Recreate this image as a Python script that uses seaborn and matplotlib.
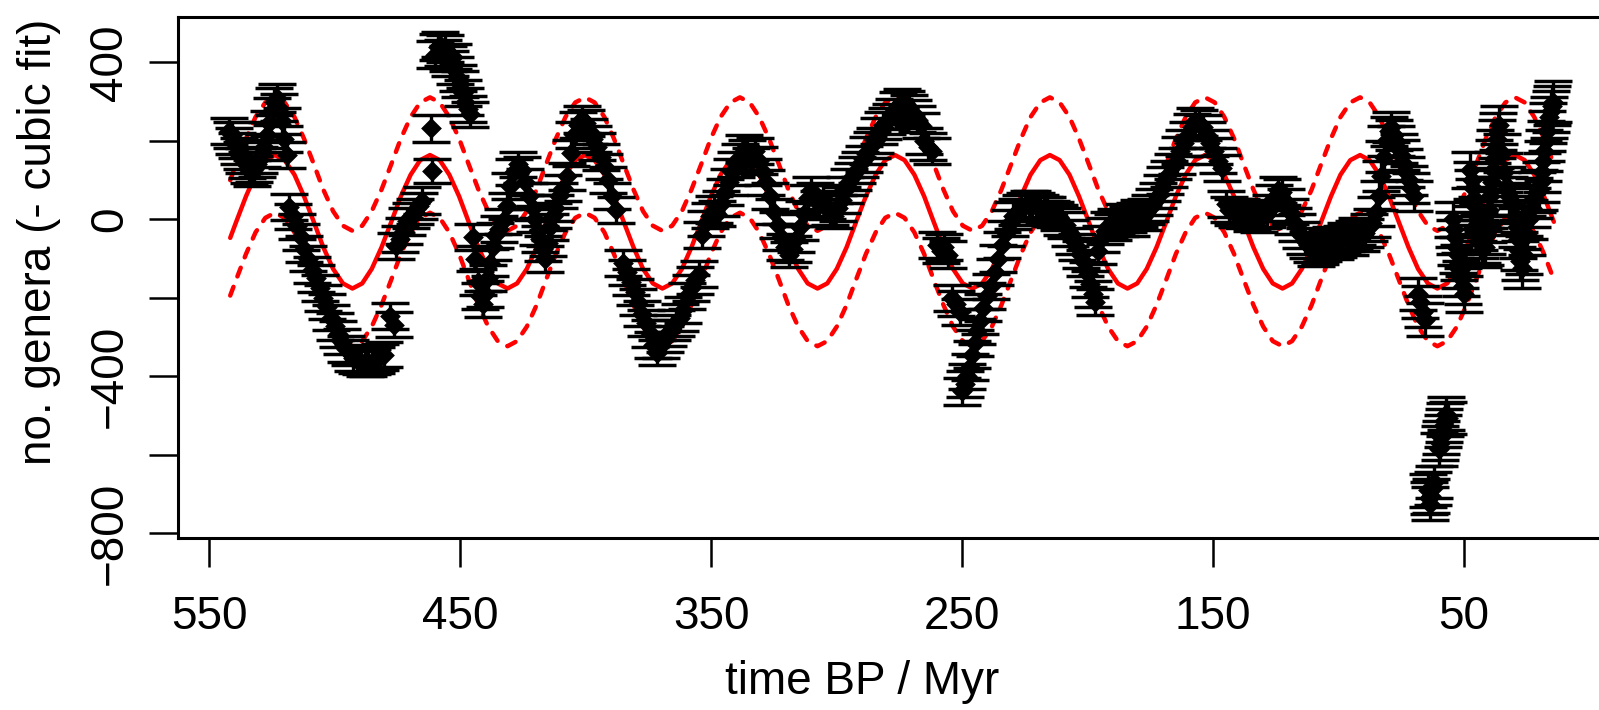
import matplotlib
matplotlib.use("Agg")
import matplotlib.pyplot as plt
import seaborn as sns
import pandas as pd

# ---------------- data: detrended genus counts (time BP in Myr) ----------------
time_myr = [
    542.0, 541.0, 540.0, 539.0, 538.0, 537.0, 536.0, 535.0, 534.0, 533.0, 532.0, 531.0,
    530.0, 529.0, 528.0, 527.0, 526.0, 525.0, 524.0, 523.0, 522.0, 521.0, 520.0, 519.0,
    518.0, 516.5, 515.0, 513.5, 512.0, 510.5, 509.0, 507.5, 506.0, 504.5, 503.0, 501.5, 500.0, 498.5, 497.0,
    495.5, 494.0, 492.5, 491.0, 489.5, 488.0, 486.5, 485.0, 483.5, 482.0, 480.5,
    478.0, 476.5,
    475.5, 474.0, 472.5, 471.0, 469.5, 468.0, 466.5, 465.0,
    461.5, 461.0,
    460.0, 459.0, 458.0, 457.0, 456.0, 455.0, 454.0, 453.0, 452.0, 451.0, 450.0, 449.0, 448.0, 447.0, 446.0,
    445.0, 444.0, 443.0, 442.0, 441.0, 440.0, 439.0, 438.0, 437.0, 436.0,
    434.5, 433.0, 431.5, 430.0, 428.5, 427.0, 425.5, 424.0, 422.5, 421.0, 420.0, 419.0, 418.0, 417.0, 416.0, 415.0, 414.0, 413.0,
    412.0, 410.5, 409.0, 407.5, 406.0, 404.5, 403.0, 401.5, 400.0, 398.5, 397.0, 395.5,
    394.0, 392.5, 391.0, 389.5, 388.0,
    385.0, 383.5, 382.0, 380.5, 379.0, 377.5, 376.0, 374.5, 373.0, 371.5, 370.0, 368.5, 367.0, 365.5, 364.0, 362.5, 361.0, 359.5, 358.0, 356.5, 355.0,
    353.5, 352.0, 350.5, 349.0, 347.5, 346.0, 344.5, 343.0, 341.5, 340.0, 338.5, 337.0, 335.5, 334.0, 332.5, 331.0, 329.5, 328.0,
    326.5, 325.0, 323.5, 322.0, 320.5, 319.0, 317.5, 316.0, 314.5, 313.0, 311.5, 310.0, 308.5, 307.0, 305.5, 304.0, 302.5, 301.0, 299.5,
    298.0, 296.5, 295.0, 293.5, 292.0, 290.5, 289.0, 287.5, 286.0, 284.5, 283.0, 281.5, 280.0, 278.5, 277.0, 275.5, 274.0, 272.5, 271.0, 269.5, 268.0, 266.5, 265.0, 263.5, 262.0,
    260.0, 258.5, 257.0, 255.5, 254.0, 252.5, 251.0, 250.0, 249.0, 248.0, 247.0, 246.0, 245.0, 244.0, 243.0, 241.5, 240.0, 238.5, 237.0, 235.5, 234.0, 232.5, 231.0, 229.5, 228.0,
    226.5, 225.0, 223.5, 222.0, 220.5, 219.0, 217.5, 216.0, 214.5, 213.0, 211.5, 210.0, 208.5,
    207.0, 205.5, 204.0, 202.5, 201.0, 200.0, 199.0, 198.0, 197.0,
    196.0, 194.5, 193.0, 191.5, 190.0, 188.5, 187.0, 185.5, 184.0, 182.5, 181.0, 179.5, 178.0, 176.5, 175.0,
    173.5, 172.0, 170.5, 169.0, 167.5, 166.0, 164.5, 163.0, 161.5, 160.0, 158.5, 157.0, 155.5, 154.0, 152.5, 151.0, 149.5, 148.0, 146.5,
    145.0, 143.5, 142.0, 140.5, 139.0, 137.5, 136.0, 134.5, 133.0, 131.5, 130.0, 128.5, 127.0, 125.5, 124.0, 122.5, 121.0, 119.5, 118.0, 116.5, 115.0, 113.5, 112.0, 110.5, 109.0,
    107.5, 106.0, 104.5, 103.0, 101.5, 100.0, 98.5, 97.0, 95.5, 94.0, 92.5, 91.0, 89.5, 88.0, 86.5,
    85.0, 84.0, 83.0, 82.0, 81.0, 80.0, 79.0, 78.0, 77.0, 76.0, 75.0, 74.0, 73.0, 72.0, 71.0, 70.0,
    68.5, 67.5, 66.5, 65.5,
    64.5, 64.0, 63.5, 63.0, 62.5, 62.0, 60.0, 59.5, 59.0, 58.5, 58.0, 57.5, 57.0, 56.5,
    54.5, 54.0, 53.5, 53.0, 52.5, 52.0, 51.5, 51.0, 50.5, 50.0,
    47.5, 47.0, 46.5, 46.0, 45.5, 45.0, 44.5, 44.0, 43.5, 43.0, 42.5,
    41.5, 41.0, 40.5, 40.0, 39.5, 39.0, 38.5, 38.0, 37.5, 37.0, 36.5, 36.0,
    35.0, 34.0, 33.0, 32.0, 31.0,
    30.0, 29.5, 29.0, 28.5, 28.0, 27.5, 27.0,
    26.0, 25.0, 24.0, 23.0, 22.0, 21.0,
    20.0, 19.5, 19.0, 18.5, 18.0, 17.5, 17.0, 16.5, 16.0, 15.5, 15.0, 14.5,
]

genera_resid = [
    225, 215, 200, 188, 175, 163, 150, 138, 125, 118, 128, 140,
    152, 168, 185, 215, 245, 275, 300, 310, 285, 250, 205, 165,
    32, 8, -18, -45, -75, -100, -128, -150, -175, -200, -222, -250, -272, -292, -312,
    -330, -340, -352, -358, -362, -365, -368, -362, -358, -350, -345,
    -245, -268,
    -68, -50, -30, -5, 10, 20, 35, 48,
    232, 123,
    420, 440, 445, 425, 435, 410, 398, 415, 380, 360, 345, 322, 300, 282, 268,
    -45, -100, -160, -195, -215, -190, -150, -110, -70, -40,
    -25, -5, 35, 85, 120, 140, 125, 95, 60, 30, 0, -30, -50, -75, -100, -60, -20, 10,
    30, 60, 80, 110, 170, 215, 240, 255, 245, 225, 205, 185,
    160, 135, 100, 60, 25,
    -110, -135, -160, -185, -210, -240, -265, -290, -320, -340, -320, -305, -290, -275, -265, -250, -230, -195, -175, -155, -140,
    -40, -10, 10, 25, 15, 40, 70, 95, 120, 140, 160, 180, 170, 150, 175, 150, 120, 95,
    60, 20, -15, -45, -70, -90, -75, -50, -20, 15, 55, 75, 60, 40, 55, 35, 20, 10, 30,
    50, 75, 95, 110, 125, 140, 155, 175, 190, 200, 225, 240, 250, 262, 275, 290, 300, 295, 285, 270, 255, 240, 200, 185, 175,
    -65, -80, -70, -90, -200, -215, -235, -438, -420, -400, -375, -345, -315, -285, -260, -225, -195, -170, -135, -100, -65, -35, -10, 10, 20,
    30, 35, 40, 38, 35, 30, 25, 22, 15, 12, 5, -5, -15,
    -35, -55, -70, -90, -110, -140, -165, -190, -210,
    -80, -50, -30, -15, -20, -5, -10, 5, 0, -10, 10, 15, 5, 20, 30,
    45, 60, 80, 100, 115, 135, 150, 175, 195, 215, 235, 250, 245, 235, 215, 195, 175, 150, 130,
    40, 25, 20, 15, 20, 10, 15, 5, 10, 0, 10, 15, 30, 55, 75, 70, 45, 20, -5, -20, -40, -55, -65, -75, -85,
    -80, -70, -60, -55, -65, -60, -50, -45, -55, -40, -30, -45, -35, -20, -10,
    20, 60, 110, 160, 200, 225, 235, 215, 200, 180, 165, 140, 120, 100, 80, 60,
    -190, -210, -235, -255,
    -690, -710, -725, -705, -685, -670, -585, -570, -555, -540, -525, -510, -495, -505,
    0, -25, -45, -70, -90, -110, -130, -150, -170, -190,
    125, 100, 80, 55, 35, 10, -10, -30, -50, -65, -75,
    -70, -40, -10, 25, 60, 95, 125, 155, 180, 205, 225, 240,
    170, 120, 85, 60, 45,
    40, 10, -20, -50, -80, -105, -125,
    -90, -40, 0, 30, 55, 70,
    75, 95, 120, 150, 175, 200, 225, 245, 260, 275, 290, 300,
]

genera_err = [
    34, 33, 33, 32, 33, 34, 32, 33, 33, 34, 33, 32,
    33, 34, 33, 33, 32, 34, 35, 36, 34, 33, 32, 33,
    33, 32, 33, 34, 33, 32, 33, 34, 33, 33, 32, 33, 34, 33, 32,
    33, 32, 33, 34, 33, 33, 32, 33, 34, 33, 32,
    33, 32,
    33, 32, 33, 34, 33, 32, 33, 34,
    34, 31,
    34, 33, 32, 33, 34, 33, 32, 33, 34, 33, 32, 33, 34, 33, 32,
    33, 32, 33, 34, 33, 32, 33, 34, 33, 32,
    33, 32, 33, 34, 33, 32, 33, 34, 33, 32, 33, 34, 33, 32, 33, 34, 33, 32,
    33, 32, 33, 34, 33, 32, 33, 34, 33, 32, 33, 34,
    33, 32, 33, 34, 33,
    33, 32, 33, 34, 33, 32, 33, 34, 33, 32, 33, 34, 33, 32, 33, 34, 33, 32, 33, 34, 33,
    33, 32, 33, 34, 33, 32, 33, 34, 33, 32, 33, 34, 33, 32, 33, 34, 33, 32,
    33, 32, 33, 34, 33, 32, 33, 34, 33, 32, 33, 34, 33, 32, 33, 34, 33, 32, 33,
    33, 32, 33, 34, 33, 32, 33, 34, 33, 32, 33, 34, 33, 32, 33, 34, 33, 32, 33, 34, 33, 32, 33, 34, 33,
    33, 32, 33, 34, 33, 32, 33, 34, 33, 32, 33, 34, 33, 32, 33, 34, 33, 32, 33, 34, 33, 32, 33, 34, 33,
    33, 32, 33, 34, 33, 32, 33, 34, 33, 32, 33, 34, 33,
    33, 32, 33, 34, 33, 32, 33, 34, 33,
    33, 32, 33, 34, 33, 32, 33, 34, 33, 32, 33, 34, 33, 32, 33,
    33, 32, 33, 34, 33, 32, 33, 34, 33, 32, 33, 34, 33, 32, 33, 34, 33, 32, 33,
    33, 32, 33, 34, 33, 32, 33, 34, 33, 32, 33, 34, 33, 32, 33, 34, 33, 32, 33, 34, 33, 32, 33, 34, 33,
    34, 35, 34, 35, 36, 35, 34, 35, 36, 35, 34, 35, 36, 35, 36,
    38, 37, 38, 39, 38, 37, 38, 39, 38, 37, 38, 39, 38, 37, 38, 39,
    40, 41, 40, 41,
    42, 41, 42, 43, 42, 41, 42, 43, 42, 41, 42, 43, 42, 41,
    44, 45, 44, 45, 46, 45, 44, 45, 46, 45,
    46, 47, 46, 47, 48, 47, 46, 47, 48, 47, 46,
    47, 48, 47, 48, 49, 48, 47, 48, 49, 48, 47, 48,
    48, 49, 48, 49, 48,
    48, 49, 50, 49, 48, 49, 50,
    49, 50, 49, 50, 51, 50,
    50, 51, 50, 51, 52, 51, 50, 51, 52, 51, 50, 52,
]

# ---------------- periodic model fit (solid) and its +/- band (dashed) ----------------
fit_time = [
    541.6,
    539.2, 535.3, 531.5, 527.6, 523.8, 519.9, 516.0, 512.2, 508.3, 504.5, 500.6, 496.7, 492.9, 489.0, 485.2, 481.3, 477.4, 473.6, 469.7, 465.9, 462.0,
    458.1, 454.3, 450.4, 446.6, 442.7, 438.8, 435.0, 431.1, 427.3, 423.4, 419.5, 415.7, 411.8, 408.0, 404.1, 400.2,
    396.4, 392.5, 388.7, 384.8, 380.9, 377.1, 373.2, 369.4, 365.5, 361.6, 357.8, 353.9, 350.1, 346.2, 342.3, 338.5,
    334.6, 330.8, 326.9, 323.0, 319.2, 315.3, 311.5, 307.6, 303.7, 299.9, 296.0, 292.2, 288.3, 284.4, 280.6, 276.7,
    272.9, 269.0, 265.1, 261.3, 257.4, 253.6, 249.7, 245.8, 242.0, 238.1, 234.3, 230.4, 226.5, 222.7, 218.8, 215.0,
    211.1, 207.2, 203.4, 199.5, 195.7, 191.8, 187.9, 184.1, 180.2, 176.4, 172.5, 168.6, 164.8, 160.9, 157.1, 153.2,
    149.3, 145.5, 141.6, 137.8, 133.9, 130.0, 126.2, 122.3, 118.5, 114.6, 110.7, 106.9, 103.0, 99.2, 95.3, 91.4,
    87.6, 83.7, 79.9, 76.0, 72.1, 68.3, 64.4, 60.6, 56.7, 52.8, 49.0, 45.1, 41.3, 37.4, 33.5, 29.7,
    25.8, 22.0, 18.1, 14.2,
]

fit_value = [
    -47,
    -6, 59, 114, 151, 164, 151, 114, 59, -6, -71, -126, -163, -176, -163, -126, -71, -6, 59, 114, 151, 164,
    151, 114, 59, -6, -71, -126, -163, -176, -163, -126, -71, -6, 59, 114, 151, 164,
    151, 114, 59, -6, -71, -126, -163, -176, -163, -126, -71, -6, 59, 114, 151, 164,
    151, 114, 59, -6, -71, -126, -163, -176, -163, -126, -71, -6, 59, 114, 151, 164,
    151, 114, 59, -6, -71, -126, -163, -176, -163, -126, -71, -6, 59, 114, 151, 164,
    151, 114, 59, -6, -71, -126, -163, -176, -163, -126, -71, -6, 59, 114, 151, 164,
    151, 114, 59, -6, -71, -126, -163, -176, -163, -126, -71, -6, 59, 114, 151, 164,
    151, 114, 59, -6, -71, -126, -163, -176, -163, -126, -71, -6, 59, 114, 151, 164,
    151, 114, 59, -6,
]

fit_upper = [
    100,
    141, 206, 261, 298, 311, 298, 261, 206, 141, 76, 21, -16, -29, -16, 21, 76, 141, 206, 261, 298, 311,
    298, 261, 206, 141, 76, 21, -16, -29, -16, 21, 76, 141, 206, 261, 298, 311,
    298, 261, 206, 141, 76, 21, -16, -29, -16, 21, 76, 141, 206, 261, 298, 311,
    298, 261, 206, 141, 76, 21, -16, -29, -16, 21, 76, 141, 206, 261, 298, 311,
    298, 261, 206, 141, 76, 21, -16, -29, -16, 21, 76, 141, 206, 261, 298, 311,
    298, 261, 206, 141, 76, 21, -16, -29, -16, 21, 76, 141, 206, 261, 298, 311,
    298, 261, 206, 141, 76, 21, -16, -29, -16, 21, 76, 141, 206, 261, 298, 311,
    298, 261, 206, 141, 76, 21, -16, -29, -16, 21, 76, 141, 206, 261, 298, 311,
    298, 261, 206, 141,
]

fit_lower = [
    -194,
    -153, -88, -33, 4, 17, 4, -33, -88, -153, -218, -273, -310, -323, -310, -273, -218, -153, -88, -33, 4, 17,
    4, -33, -88, -153, -218, -273, -310, -323, -310, -273, -218, -153, -88, -33, 4, 17,
    4, -33, -88, -153, -218, -273, -310, -323, -310, -273, -218, -153, -88, -33, 4, 17,
    4, -33, -88, -153, -218, -273, -310, -323, -310, -273, -218, -153, -88, -33, 4, 17,
    4, -33, -88, -153, -218, -273, -310, -323, -310, -273, -218, -153, -88, -33, 4, 17,
    4, -33, -88, -153, -218, -273, -310, -323, -310, -273, -218, -153, -88, -33, 4, 17,
    4, -33, -88, -153, -218, -273, -310, -323, -310, -273, -218, -153, -88, -33, 4, 17,
    4, -33, -88, -153, -218, -273, -310, -323, -310, -273, -218, -153, -88, -33, 4, 17,
    4, -33, -88, -153,
]

x_ticks = [550, 450, 350, 250, 150, 50]
x_tick_labels = ["550", "450", "350", "250", "150", "50"]
y_ticks = [-800, -600, -400, -200, 0, 200, 400]
y_tick_labels = ["\u2212800", "", "\u2212400", "", "0", "", "400"]

# ---------------- figure ----------------
sns.set_style("ticks")
plt.rcParams["font.family"] = ["Liberation Sans", "DejaVu Sans"]
plt.rcParams["text.color"] = "black"
plt.rcParams["axes.labelcolor"] = "black"

W, H = 1599, 710
fig = plt.figure(figsize=(W / 100, H / 100), dpi=100)
ax = fig.add_axes([178 / W, 172 / H, (W - 178) / W, 520.7 / H])

pts = pd.DataFrame({"time": time_myr, "genera": genera_resid, "err": genera_err})
fit = pd.DataFrame({"time": fit_time, "fit": fit_value, "upper": fit_upper, "lower": fit_lower})

red = "#ff0000"
for col in ["fit", "upper", "lower"]:
    sns.lineplot(data=fit, x="time", y=col, ax=ax, color=red, linewidth=3.2,
                 sort=False, estimator=None, zorder=1)
for ln in ax.lines[1:3]:
    ln.set_linestyle((0, (2.1, 2.5)))
    ln.set_dash_capstyle("round")
    ln.set_dash_joinstyle("round")
ax.lines[0].set_solid_capstyle("round")
ax.lines[0].set_solid_joinstyle("round")

ax.errorbar(pts["time"], pts["genera"], yerr=pts["err"], fmt="none", ecolor="black",
            elinewidth=2.4, capsize=13.4, capthick=2.5, zorder=3)
sns.scatterplot(data=pts, x="time", y="genera", ax=ax, marker="D", s=112,
                color="black", linewidth=0, zorder=4, legend=False)

ax.set_xlim(562.4, -3.8)
ax.set_ylim(-811.7, 515)
ax.set_xticks(x_ticks)
ax.set_xticklabels(x_tick_labels)
ax.set_yticks(y_ticks)
ax.set_yticklabels(y_tick_labels)
ax.set_xlabel("")
ax.set_ylabel("")

ax.tick_params(axis="both", direction="out", length=21, width=1.8, labelsize=33,
               colors="black", labelcolor="black")
ax.tick_params(axis="x", pad=20)
ax.tick_params(axis="y", pad=12, labelrotation=90)
for lab in ax.get_yticklabels():
    lab.set_verticalalignment("center")

for side in ["left", "bottom", "top"]:
    ax.spines[side].set_linewidth(2.2)
    ax.spines[side].set_color("black")
ax.spines["right"].set_visible(False)

fig.text(862 / W, 1 - 682.5 / H, "time BP / Myr", ha="center", va="center",
         fontsize=33, color="black")
fig.text(39 / W, 1 - 242 / H, "no. genera (- cubic fit)", rotation=90,
         ha="center", va="center", fontsize=33, color="black")

fig.savefig("out.png", dpi=100, facecolor="white")
